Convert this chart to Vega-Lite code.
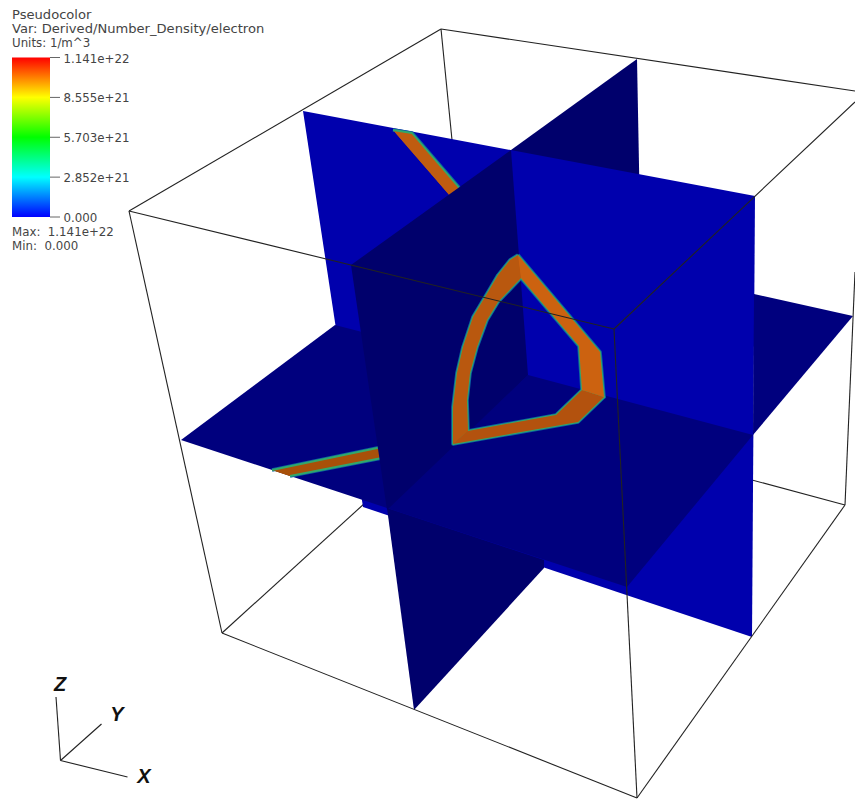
{
"$schema":"https://vega.github.io/schema/vega-lite/v6.json",
"width":855,"height":801,"padding":0,"autosize":{"type":"none"},"background":"white",
"view":{"stroke":null},
"resolve":{"scale":{"y":"independent"}},
"datasets":{
"edges":[
{"edge":"top left","side":"back","x":129,"y":211,"x2":441,"y2":29},
{"edge":"top back","side":"back","x":441,"y":29,"x2":855,"y2":91},
{"edge":"back vertical","side":"back","x":441,"y":29,"x2":452,"y2":140},
{"edge":"bottom left back","side":"back","x":222,"y":633,"x2":365,"y2":503},
{"edge":"bottom back","side":"back","x":700,"y":466,"x2":845,"y2":505},
{"edge":"top front","side":"front","x":129,"y":211,"x2":614,"y2":329},
{"edge":"top right","side":"front","x":614,"y":329,"x2":855,"y2":102},
{"edge":"front vertical","side":"front","x":614,"y":329,"x2":637,"y2":798},
{"edge":"left vertical","side":"front","x":129,"y":211,"x2":222,"y2":633},
{"edge":"bottom front","side":"front","x":222,"y":633,"x2":637,"y2":798},
{"edge":"bottom right","side":"front","x":637,"y":798,"x2":845,"y2":505},
{"edge":"right vertical","side":"front","x":855,"y":272,"x2":845,"y2":505},
{"edge":"triad Z","side":"front","x":60.5,"y":760.5,"x2":56,"y2":697},
{"edge":"triad Y","side":"front","x":60.5,"y":760.5,"x2":101.5,"y2":724},
{"edge":"triad X","side":"front","x":60.5,"y":760.5,"x2":127.5,"y2":777}
],
"verts":[
{"piece":"B back","shade":"B","stage":"planes","i":0,"x":637,"y":59},
{"piece":"B back","shade":"B","stage":"planes","i":1,"x":511,"y":150},
{"piece":"B back","shade":"B","stage":"planes","i":2,"x":528,"y":375},
{"piece":"B back","shade":"B","stage":"planes","i":3,"x":641,"y":271},
{"piece":"A","shade":"A","stage":"planes","i":0,"x":303,"y":111},
{"piece":"A","shade":"A","stage":"planes","i":1,"x":755,"y":196},
{"piece":"A","shade":"A","stage":"planes","i":2,"x":752,"y":637},
{"piece":"A","shade":"A","stage":"planes","i":3,"x":363,"y":507},
{"piece":"C left","shade":"C","stage":"planes","i":0,"x":181,"y":440},
{"piece":"C left","shade":"C","stage":"planes","i":1,"x":335,"y":325},
{"piece":"C left","shade":"C","stage":"planes","i":2,"x":528,"y":375},
{"piece":"C left","shade":"C","stage":"planes","i":3,"x":387,"y":508},
{"piece":"C front","shade":"C","stage":"planes","i":0,"x":528,"y":375},
{"piece":"C front","shade":"C","stage":"planes","i":1,"x":753,"y":435},
{"piece":"C front","shade":"C","stage":"planes","i":2,"x":627,"y":587},
{"piece":"C front","shade":"C","stage":"planes","i":3,"x":387,"y":508},
{"piece":"C back","shade":"C","stage":"planes","i":0,"x":754,"y":294},
{"piece":"C back","shade":"C","stage":"planes","i":1,"x":853,"y":316},
{"piece":"C back","shade":"C","stage":"planes","i":2,"x":753,"y":435},
{"piece":"ring rear A","shade":"ringRearA","stage":"rear","i":0,"x":393,"y":130},
{"piece":"ring rear A","shade":"ringRearA","stage":"rear","i":1,"x":412,"y":133},
{"piece":"ring rear A","shade":"ringRearA","stage":"rear","i":2,"x":462,"y":191},
{"piece":"ring rear A","shade":"ringRearA","stage":"rear","i":3,"x":451,"y":197},
{"piece":"ring rear C","shade":"ringRearC","stage":"rear","i":0,"x":272,"y":470},
{"piece":"ring rear C","shade":"ringRearC","stage":"rear","i":1,"x":382,"y":447},
{"piece":"ring rear C","shade":"ringRearC","stage":"rear","i":2,"x":382,"y":458},
{"piece":"ring rear C","shade":"ringRearC","stage":"rear","i":3,"x":290,"y":476},
{"piece":"B upper","shade":"B","stage":"front","i":0,"x":351,"y":265},
{"piece":"B upper","shade":"B","stage":"front","i":1,"x":511,"y":150},
{"piece":"B upper","shade":"B","stage":"front","i":2,"x":528,"y":375},
{"piece":"B upper","shade":"B","stage":"front","i":3,"x":387,"y":510},
{"piece":"B lower","shade":"B","stage":"front","i":0,"x":387,"y":508},
{"piece":"B lower","shade":"B","stage":"front","i":1,"x":544,"y":560},
{"piece":"B lower","shade":"B","stage":"front","i":2,"x":544,"y":568},
{"piece":"B lower","shade":"B","stage":"front","i":3,"x":414,"y":710},
{"piece":"ring arc","shade":"ringB","stage":"ring","i":0,"x":518,"y":255},
{"piece":"ring arc","shade":"ringB","stage":"ring","i":1,"x":510,"y":260},
{"piece":"ring arc","shade":"ringB","stage":"ring","i":2,"x":498,"y":275},
{"piece":"ring arc","shade":"ringB","stage":"ring","i":3,"x":488,"y":292},
{"piece":"ring arc","shade":"ringB","stage":"ring","i":4,"x":473,"y":317},
{"piece":"ring arc","shade":"ringB","stage":"ring","i":5,"x":463,"y":347},
{"piece":"ring arc","shade":"ringB","stage":"ring","i":6,"x":457,"y":373},
{"piece":"ring arc","shade":"ringB","stage":"ring","i":7,"x":453,"y":407},
{"piece":"ring arc","shade":"ringB","stage":"ring","i":8,"x":453,"y":444},
{"piece":"ring arc","shade":"ringB","stage":"ring","i":9,"x":468,"y":431},
{"piece":"ring arc","shade":"ringB","stage":"ring","i":10,"x":467,"y":400},
{"piece":"ring arc","shade":"ringB","stage":"ring","i":11,"x":470,"y":373},
{"piece":"ring arc","shade":"ringB","stage":"ring","i":12,"x":477,"y":347},
{"piece":"ring arc","shade":"ringB","stage":"ring","i":13,"x":487,"y":320},
{"piece":"ring arc","shade":"ringB","stage":"ring","i":14,"x":498,"y":302},
{"piece":"ring arc","shade":"ringB","stage":"ring","i":15,"x":521,"y":278},
{"piece":"ring floor","shade":"ringC","stage":"ring","i":0,"x":453,"y":444},
{"piece":"ring floor","shade":"ringC","stage":"ring","i":1,"x":578,"y":422},
{"piece":"ring floor","shade":"ringC","stage":"ring","i":2,"x":604,"y":397},
{"piece":"ring floor","shade":"ringC","stage":"ring","i":3,"x":582,"y":390},
{"piece":"ring floor","shade":"ringC","stage":"ring","i":4,"x":556,"y":415},
{"piece":"ring floor","shade":"ringC","stage":"ring","i":5,"x":468,"y":431},
{"piece":"ring wall","shade":"ringA","stage":"ring","i":0,"x":518,"y":255},
{"piece":"ring wall","shade":"ringA","stage":"ring","i":1,"x":600,"y":352},
{"piece":"ring wall","shade":"ringA","stage":"ring","i":2,"x":604,"y":397},
{"piece":"ring wall","shade":"ringA","stage":"ring","i":3,"x":582,"y":390},
{"piece":"ring wall","shade":"ringA","stage":"ring","i":4,"x":579,"y":346},
{"piece":"ring wall","shade":"ringA","stage":"ring","i":5,"x":521,"y":278}
],
"notes":[
{"t":"Pseudocolor","block":"wide","x":12,"y":15},
{"t":"Var: Derived/Number_Density/electron","block":"wide","x":12,"y":29},
{"t":"Units: 1/m^3","block":"tight","x":12,"y":43},
{"t":"Max:\u00a0\u00a01.141e+22","block":"tight","x":12,"y":232},
{"t":"Min:\u00a0\u00a00.000","block":"tight","x":12,"y":246}
],
"axisNames":[
{"t":"Z","x":60,"y":685},
{"t":"Y","x":117,"y":715},
{"t":"X","x":144,"y":777}
],
"bar":[{"low":0,"high":1.141e22}],
"ticks":[
{"value":0,"label":"0.000"},
{"value":2.852e21,"label":"2.852e+21"},
{"value":5.703e21,"label":"5.703e+21"},
{"value":8.555e21,"label":"8.555e+21"},
{"value":1.141e22,"label":"1.141e+22"}
]
},
"layer":[
{"data":{"name":"edges"},"transform":[{"filter":"datum.side==='back'"}],
 "mark":{"type":"rule","stroke":"#222222","strokeWidth":1.1},
 "encoding":{
  "x":{"field":"x","type":"quantitative","scale":{"domain":[0,855],"nice":false,"zero":false},"axis":null},
  "y":{"field":"y","type":"quantitative","scale":{"domain":[801,0],"nice":false,"zero":false},"axis":null},
  "x2":{"field":"x2"},"y2":{"field":"y2"}}},
{"data":{"name":"verts"},"transform":[{"filter":"datum.stage==='planes'"}],
 "mark":{"type":"line","strokeWidth":0,"strokeOpacity":0},
 "encoding":{
  "x":{"field":"x","type":"quantitative","scale":{"domain":[0,855],"nice":false,"zero":false},"axis":null},
  "y":{"field":"y","type":"quantitative","scale":{"domain":[801,0],"nice":false,"zero":false},"axis":null},
  "detail":{"field":"piece"},"order":{"field":"i"},
  "fill":{"field":"shade","type":"nominal","legend":null,
    "scale":{"domain":["A","B","C","ringA","ringB","ringC","ringRearA","ringRearC"],"range":["#0000ad","#00006c","#00007e","#cc6210","#b9580f","#b3520e","#c05c10","#a85009"]}}}},
{"data":{"name":"verts"},"transform":[{"filter":"datum.stage==='rear'"}],
 "mark":{"type":"line","stroke":"#0b62a0","strokeWidth":3.6,"strokeJoin":"round"},
 "encoding":{
  "x":{"field":"x","type":"quantitative","scale":{"domain":[0,855],"nice":false,"zero":false},"axis":null},
  "y":{"field":"y","type":"quantitative","scale":{"domain":[801,0],"nice":false,"zero":false},"axis":null},
  "detail":{"field":"piece"},"order":{"field":"i"},
  "fill":{"field":"shade","type":"nominal","legend":null}}},
{"data":{"name":"verts"},"transform":[{"filter":"datum.stage==='rear'"}],
 "mark":{"type":"line","stroke":"#32a86a","strokeWidth":1.8,"strokeJoin":"round"},
 "encoding":{
  "x":{"field":"x","type":"quantitative","scale":{"domain":[0,855],"nice":false,"zero":false},"axis":null},
  "y":{"field":"y","type":"quantitative","scale":{"domain":[801,0],"nice":false,"zero":false},"axis":null},
  "detail":{"field":"piece"},"order":{"field":"i"},
  "fill":{"field":"shade","type":"nominal","legend":null}}},
{"data":{"name":"verts"},"transform":[{"filter":"datum.stage==='front'"}],
 "mark":{"type":"line","strokeWidth":0,"strokeOpacity":0},
 "encoding":{
  "x":{"field":"x","type":"quantitative","scale":{"domain":[0,855],"nice":false,"zero":false},"axis":null},
  "y":{"field":"y","type":"quantitative","scale":{"domain":[801,0],"nice":false,"zero":false},"axis":null},
  "detail":{"field":"piece"},"order":{"field":"i"},
  "fill":{"field":"shade","type":"nominal","legend":null}}},
{"data":{"name":"verts"},"transform":[{"filter":"datum.stage==='ring'"}],
 "mark":{"type":"line","stroke":"#0b62a0","strokeWidth":3.6,"strokeJoin":"round"},
 "encoding":{
  "x":{"field":"x","type":"quantitative","scale":{"domain":[0,855],"nice":false,"zero":false},"axis":null},
  "y":{"field":"y","type":"quantitative","scale":{"domain":[801,0],"nice":false,"zero":false},"axis":null},
  "detail":{"field":"piece"},"order":{"field":"i"},
  "fill":{"field":"shade","type":"nominal","legend":null}}},
{"data":{"name":"verts"},"transform":[{"filter":"datum.stage==='ring'"}],
 "mark":{"type":"line","stroke":"#32a86a","strokeWidth":1.8,"strokeJoin":"round"},
 "encoding":{
  "x":{"field":"x","type":"quantitative","scale":{"domain":[0,855],"nice":false,"zero":false},"axis":null},
  "y":{"field":"y","type":"quantitative","scale":{"domain":[801,0],"nice":false,"zero":false},"axis":null},
  "detail":{"field":"piece"},"order":{"field":"i"},
  "fill":{"field":"shade","type":"nominal","legend":null}}},
{"data":{"name":"verts"},"transform":[{"filter":"datum.stage==='ring'"}],
 "mark":{"type":"line","strokeWidth":0,"strokeOpacity":0},
 "encoding":{
  "x":{"field":"x","type":"quantitative","scale":{"domain":[0,855],"nice":false,"zero":false},"axis":null},
  "y":{"field":"y","type":"quantitative","scale":{"domain":[801,0],"nice":false,"zero":false},"axis":null},
  "detail":{"field":"piece"},"order":{"field":"i"},
  "fill":{"field":"shade","type":"nominal","legend":null}}},
{"data":{"name":"edges"},"transform":[{"filter":"datum.side==='front'"}],
 "mark":{"type":"rule","stroke":"#222222","strokeWidth":1.1},
 "encoding":{
  "x":{"field":"x","type":"quantitative","scale":{"domain":[0,855],"nice":false,"zero":false},"axis":null},
  "y":{"field":"y","type":"quantitative","scale":{"domain":[801,0],"nice":false,"zero":false},"axis":null},
  "x2":{"field":"x2"},"y2":{"field":"y2"}}},
{"data":{"name":"bar"},
 "mark":{"type":"rect","fill":{"gradient":"linear","x1":0,"y1":1,"x2":0,"y2":0,"stops":[
   {"offset":0,"color":"#0000ff"},{"offset":0.25,"color":"#00ffff"},{"offset":0.5,"color":"#00ff00"},{"offset":0.75,"color":"#ffff00"},{"offset":1,"color":"#ff0000"}]}},
 "encoding":{
  "x":{"datum":12,"type":"quantitative","scale":{"domain":[0,855],"nice":false,"zero":false},"axis":null},
  "x2":{"datum":50},
  "y":{"field":"low","type":"quantitative","scale":{"domain":[0,1.141e22],"range":[217,57.5],"nice":false,"zero":false},"axis":null},
  "y2":{"field":"high"}}},
{"data":{"name":"ticks"},
 "mark":{"type":"rule","stroke":"#666666","strokeWidth":1},
 "encoding":{
  "x":{"datum":50,"type":"quantitative","scale":{"domain":[0,855],"nice":false,"zero":false},"axis":null},
  "x2":{"datum":60},
  "y":{"field":"value","type":"quantitative","scale":{"domain":[0,1.141e22],"range":[217,57.5],"nice":false,"zero":false},"axis":null}}},
{"data":{"name":"ticks"},
 "mark":{"type":"text","align":"left","baseline":"middle","dy":1,"font":"DejaVu Sans","fontSize":11.8,"fill":"#444444"},
 "encoding":{
  "x":{"datum":63.5,"type":"quantitative","scale":{"domain":[0,855],"nice":false,"zero":false},"axis":null},
  "y":{"field":"value","type":"quantitative","scale":{"domain":[0,1.141e22],"range":[217,57.5],"nice":false,"zero":false},"axis":null},
  "text":{"field":"label"}}},
{"data":{"name":"notes"},"transform":[{"filter":"datum.block==='wide'"}],
 "mark":{"type":"text","align":"left","baseline":"middle","font":"DejaVu Sans","fontSize":13.1,"fill":"#444444"},
 "encoding":{
  "x":{"field":"x","type":"quantitative","scale":{"domain":[0,855],"nice":false,"zero":false},"axis":null},
  "y":{"field":"y","type":"quantitative","scale":{"domain":[801,0],"nice":false,"zero":false},"axis":null},
  "text":{"field":"t"}}},
{"data":{"name":"notes"},"transform":[{"filter":"datum.block==='tight'"}],
 "mark":{"type":"text","align":"left","baseline":"middle","font":"DejaVu Sans","fontSize":11.8,"fill":"#444444"},
 "encoding":{
  "x":{"field":"x","type":"quantitative","scale":{"domain":[0,855],"nice":false,"zero":false},"axis":null},
  "y":{"field":"y","type":"quantitative","scale":{"domain":[801,0],"nice":false,"zero":false},"axis":null},
  "text":{"field":"t"}}},
{"data":{"name":"axisNames"},
 "mark":{"type":"text","align":"center","baseline":"middle","font":"Liberation Sans","fontSize":20,"fontWeight":"bold","fontStyle":"italic","fill":"#111111"},
 "encoding":{
  "x":{"field":"x","type":"quantitative","scale":{"domain":[0,855],"nice":false,"zero":false},"axis":null},
  "y":{"field":"y","type":"quantitative","scale":{"domain":[801,0],"nice":false,"zero":false},"axis":null},
  "text":{"field":"t"}}}
]
}
